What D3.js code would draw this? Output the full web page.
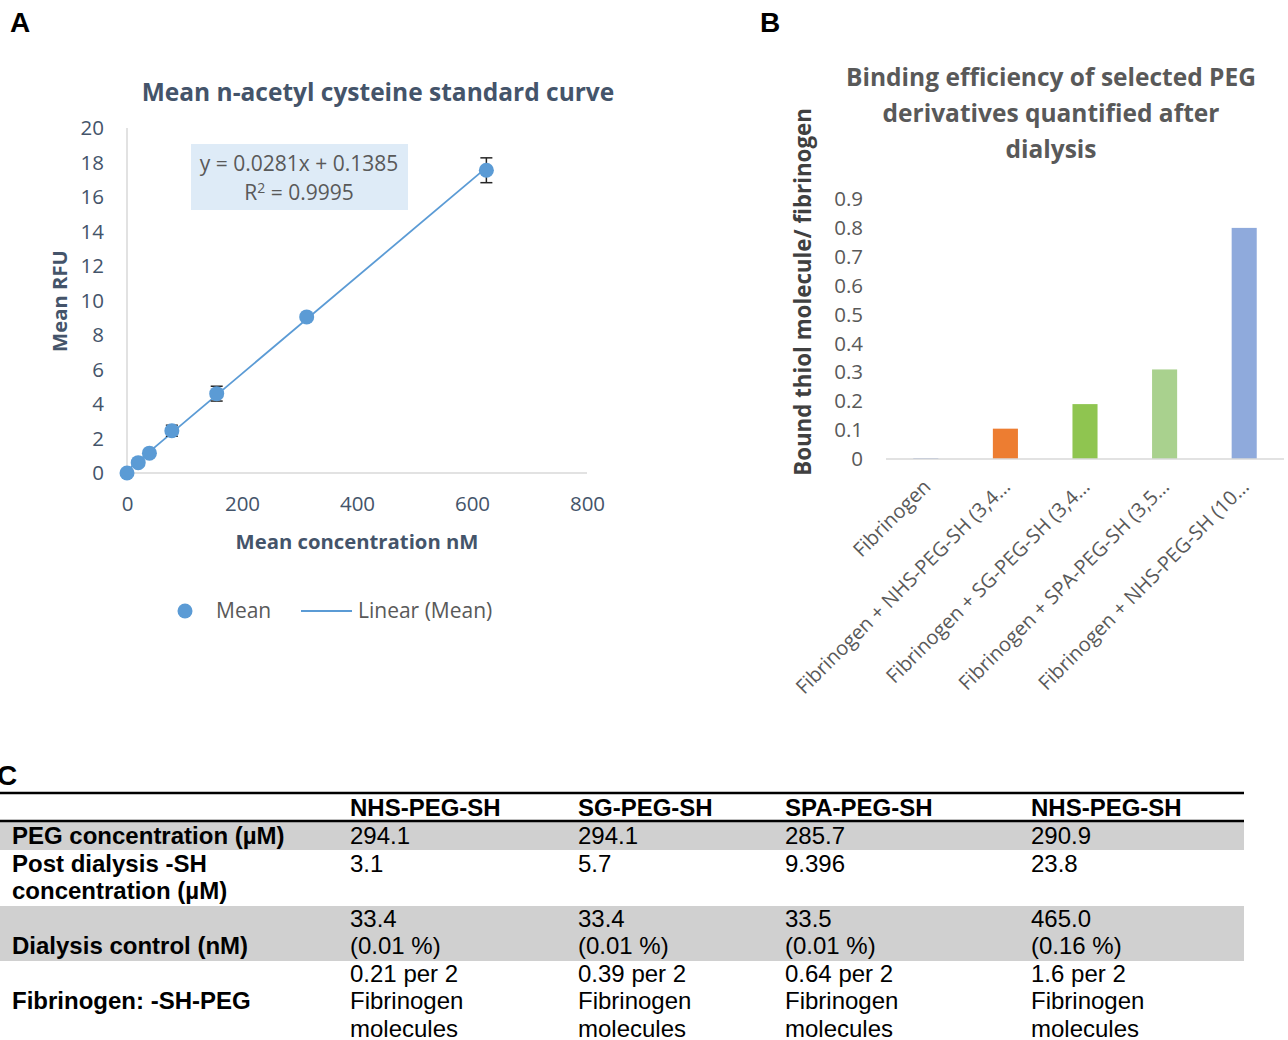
<!DOCTYPE html>
<html>
<head>
<meta charset="utf-8">
<script src="https://cdn.jsdelivr.net/npm/d3@7/dist/d3.min.js"></script>
<style>
  html, body { margin: 0; padding: 0; background: #fff; }
  svg { display: block; }
</style>
</head>
<body>
<svg id="fig" width="1288" height="1040"></svg>
<script>
// ---------- Panel A: n-acetyl cysteine standard curve ----------
const stdConc = [0, 19.5, 39, 78, 156, 312.5, 625];        // nM
const stdRFU  = [0, 0.6, 1.15, 2.45, 4.6, 9.05, 17.55];    // mean RFU
const stdErr  = [0.05, 0.08, 0.1, 0.32, 0.43, 0.12, 0.72]; // error bar half-height
const fitSlope = 0.0281;
const fitIntercept = 0.1385;
const fitR2 = 0.9995;
const xTicksA = [0, 200, 400, 600, 800];
const yTicksA = [0, 2, 4, 6, 8, 10, 12, 14, 16, 18, 20];

// ---------- Panel B: binding efficiency ----------
const bindCats = [
  "Fibrinogen",
  "Fibrinogen + NHS-PEG-SH (3,4…",
  "Fibrinogen + SG-PEG-SH (3,4…",
  "Fibrinogen + SPA-PEG-SH (3,5…",
  "Fibrinogen + NHS-PEG-SH (10…"
];
const bindVals = [0.003, 0.105, 0.19, 0.31, 0.80];
const bindColors = ["#8FAADC", "#ED7D31", "#8FC550", "#A9D18E", "#8FAADC"];
const yTicksB = [0, 0.1, 0.2, 0.3, 0.4, 0.5, 0.6, 0.7, 0.8, 0.9];

// ---------- Panel C: table ----------
const tableHeaders = ["NHS-PEG-SH", "SG-PEG-SH", "SPA-PEG-SH", "NHS-PEG-SH"];
const rowLabels = [
  ["PEG concentration (µM)"],
  ["Post dialysis -SH", "concentration (µM)"],
  ["Dialysis control (nM)"],
  ["Fibrinogen: -SH-PEG"]
];
const pegConc   = ["294.1", "294.1", "285.7", "290.9"];
const postSH    = ["3.1", "5.7", "9.396", "23.8"];
const dialCtrl  = ["33.4", "33.4", "33.5", "465.0"];
const dialPct   = ["(0.01 %)", "(0.01 %)", "(0.01 %)", "(0.16 %)"];
const ratioVals = ["0.21", "0.39", "0.64", "1.6"];

const svg = d3.select("#fig");
svg.append("rect").attr("width", 1288).attr("height", 1040).attr("fill", "#fff");

const panelFont = "Liberation Sans, Arial, sans-serif";
const chartFont = "'Open Sans', Lato, sans-serif";

// panel letters
[["A", 10, 32], ["B", 760, 32], ["C", -3, 785]].forEach(([t, x, y]) => {
  svg.append("text").attr("x", x).attr("y", y).text(t)
    .attr("font-family", panelFont).attr("font-weight", "bold")
    .attr("font-size", 28).attr("fill", "#000");
});

// ================= Panel A =================
{
  const slate = "#44546A";
  const blue = "#5B9BD5";
  const x = d3.scaleLinear().domain([0, 800]).range([127, 587]);
  const y = d3.scaleLinear().domain([0, 20]).range([473, 128]);
  const g = svg.append("g");

  g.append("text").attr("x", 378).attr("y", 101).attr("text-anchor", "middle")
    .attr("font-family", chartFont).attr("font-weight", "bold").attr("font-size", 24.5)
    .attr("fill", slate).text("Mean n-acetyl cysteine standard curve");

  // axes lines
  g.append("line").attr("x1", x(0)).attr("x2", x(800)).attr("y1", y(0)).attr("y2", y(0))
    .attr("stroke", "#D9D9D9").attr("stroke-width", 1.5);
  g.append("line").attr("x1", x(0)).attr("x2", x(0)).attr("y1", y(0)).attr("y2", y(20))
    .attr("stroke", "#D9D9D9").attr("stroke-width", 1.5);

  const yAx = g.append("g").attr("transform", `translate(${x(0)},0)`)
    .call(d3.axisLeft(y).tickValues(yTicksA).tickSize(0).tickPadding(23));
  const xAx = g.append("g").attr("transform", `translate(0,${y(0)})`)
    .call(d3.axisBottom(x).tickValues(xTicksA).tickSize(0).tickPadding(23));
  [yAx, xAx].forEach(a => {
    a.select(".domain").remove();
    a.selectAll("text").attr("font-family", chartFont).attr("font-size", 20.5).attr("fill", slate);
  });

  g.append("text").attr("x", 357).attr("y", 549).attr("text-anchor", "middle")
    .attr("font-family", chartFont).attr("font-weight", "bold").attr("font-size", 20.3)
    .attr("fill", slate).text("Mean concentration nM");
  g.append("text").attr("transform", `translate(67,301) rotate(-90)`).attr("text-anchor", "middle")
    .attr("font-family", chartFont).attr("font-weight", "bold").attr("font-size", 20.3)
    .attr("fill", slate).text("Mean RFU");

  // linear fit
  const xMax = d3.max(stdConc);
  g.append("line")
    .attr("x1", x(0)).attr("y1", y(fitIntercept))
    .attr("x2", x(xMax)).attr("y2", y(fitSlope * xMax + fitIntercept))
    .attr("stroke", blue).attr("stroke-width", 1.8);

  // error bars
  const pts = stdConc.map((c, i) => ({ c, v: stdRFU[i], e: stdErr[i] }));
  const eb = g.append("g").attr("stroke", "#262626").attr("stroke-width", 1.5);
  pts.forEach(p => {
    eb.append("line").attr("x1", x(p.c)).attr("x2", x(p.c)).attr("y1", y(p.v - p.e)).attr("y2", y(p.v + p.e));
    [p.v - p.e, p.v + p.e].forEach(v => {
      eb.append("line").attr("x1", x(p.c) - 6).attr("x2", x(p.c) + 6).attr("y1", y(v)).attr("y2", y(v));
    });
  });

  g.selectAll("circle.pt").data(pts).join("circle").attr("class", "pt")
    .attr("cx", d => x(d.c)).attr("cy", d => y(d.v)).attr("r", 7.5)
    .attr("fill", blue);

  // equation box
  g.append("rect").attr("x", 191).attr("y", 144).attr("width", 217).attr("height", 66)
    .attr("fill", "#DEEBF7");
  g.append("text").attr("x", 299).attr("y", 171).attr("text-anchor", "middle")
    .attr("font-family", chartFont).attr("font-size", 21).attr("fill", "#595959")
    .text(`y = ${fitSlope}x + ${fitIntercept}`);
  const r2 = g.append("text").attr("x", 299).attr("y", 200).attr("text-anchor", "middle")
    .attr("font-family", chartFont).attr("font-size", 21).attr("fill", "#595959");
  r2.append("tspan").text("R");
  r2.append("tspan").attr("dy", -7).attr("font-size", 14).text("2");
  r2.append("tspan").attr("dy", 7).text(` = ${fitR2}`);

  // legend
  g.append("circle").attr("cx", 185).attr("cy", 611).attr("r", 7.5).attr("fill", blue);
  g.append("text").attr("x", 216).attr("y", 618).attr("font-family", chartFont)
    .attr("font-size", 21).attr("fill", "#595959").text("Mean");
  g.append("line").attr("x1", 301).attr("x2", 352).attr("y1", 611).attr("y2", 611)
    .attr("stroke", blue).attr("stroke-width", 1.8);
  g.append("text").attr("x", 358).attr("y", 618).attr("font-family", chartFont)
    .attr("font-size", 21).attr("fill", "#595959").text("Linear (Mean)");
}

// ================= Panel B =================
{
  const grey = "#595959";
  const x = d3.scaleBand().domain(bindCats).range([886, 1284])
    .paddingInner(0.685).paddingOuter(0.3425);
  const y = d3.scaleLinear().domain([0, 0.9]).range([459, 199]);
  const g = svg.append("g");

  ["Binding efficiency of selected PEG", "derivatives quantified after", "dialysis"]
    .forEach((t, i) => {
      g.append("text").attr("x", 1051).attr("y", 86 + i * 36).attr("text-anchor", "middle")
        .attr("font-family", chartFont).attr("font-weight", "bold").attr("font-size", 24.5)
        .attr("fill", grey).text(t);
    });

  g.append("text").attr("transform", "translate(811,292) rotate(-90)").attr("text-anchor", "middle")
    .attr("font-family", chartFont).attr("font-weight", "bold").attr("font-size", 22.3)
    .attr("fill", "#404040").text("Bound thiol molecule/ fibrinogen");

  const yAx = g.append("g").attr("transform", "translate(886,0)")
    .call(d3.axisLeft(y).tickValues(yTicksB).tickSize(0).tickPadding(23)
      .tickFormat(d => d === 0 ? "0" : d3.format(".1f")(d)));
  yAx.select(".domain").remove();
  yAx.selectAll("text").attr("font-family", chartFont).attr("font-size", 20.5).attr("fill", grey);

  g.selectAll("rect.bar").data(bindVals).join("rect").attr("class", "bar")
    .attr("x", (d, i) => x(bindCats[i])).attr("width", x.bandwidth())
    .attr("y", d => y(d)).attr("height", d => y(0) - y(d))
    .attr("fill", (d, i) => bindColors[i]);

  g.append("line").attr("x1", 886).attr("x2", 1284).attr("y1", y(0)).attr("y2", y(0))
    .attr("stroke", "#D9D9D9").attr("stroke-width", 1.5);

  bindCats.forEach(c => {
    const cx = x(c) + x.bandwidth() / 2;
    g.append("text").attr("transform", `translate(${cx + 6},${488}) rotate(-45)`)
      .attr("text-anchor", "end").attr("font-family", chartFont).attr("font-size", 20)
      .attr("fill", grey).text(c);
  });
}

// ================= Panel C: table =================
{
  const g = svg.append("g").attr("font-family", panelFont).attr("font-size", 24).attr("fill", "#000");
  const colX = [350, 578, 785, 1031];
  const left = 0, right = 1244;
  const lh = 27.5;

  // shaded rows
  g.append("rect").attr("x", left).attr("y", 822).attr("width", right - left).attr("height", 28).attr("fill", "#D0D0D0");
  g.append("rect").attr("x", left).attr("y", 906).attr("width", right - left).attr("height", 55).attr("fill", "#D0D0D0");

  // rules
  g.append("line").attr("x1", left).attr("x2", right).attr("y1", 793).attr("y2", 793).attr("stroke", "#000").attr("stroke-width", 2.5);
  g.append("line").attr("x1", left).attr("x2", right).attr("y1", 821).attr("y2", 821).attr("stroke", "#000").attr("stroke-width", 2.5);

  // header
  tableHeaders.forEach((h, i) => {
    g.append("text").attr("x", colX[i]).attr("y", 816).attr("font-weight", "bold").text(h);
  });

  const base = 844; // baseline of first body line
  const line = k => base + k * lh;
  const put = (x, k, t, bold) => g.append("text").attr("x", x).attr("y", line(k))
    .attr("font-weight", bold ? "bold" : "normal").text(t);

  // row 1
  put(12, 0, rowLabels[0][0], true);
  pegConc.forEach((v, i) => put(colX[i], 0, v));
  // row 2
  put(12, 1, rowLabels[1][0], true);
  put(12, 2, rowLabels[1][1], true);
  postSH.forEach((v, i) => put(colX[i], 1, v));
  // row 3
  put(12, 4, rowLabels[2][0], true);
  dialCtrl.forEach((v, i) => put(colX[i], 3, v));
  dialPct.forEach((v, i) => put(colX[i], 4, v));
  // row 4
  put(12, 6, rowLabels[3][0], true);
  ratioVals.forEach((v, i) => {
    put(colX[i], 5, `${v} per 2`);
    put(colX[i], 6, "Fibrinogen");
    put(colX[i], 7, "molecules");
  });
}
</script>
</body>
</html>
